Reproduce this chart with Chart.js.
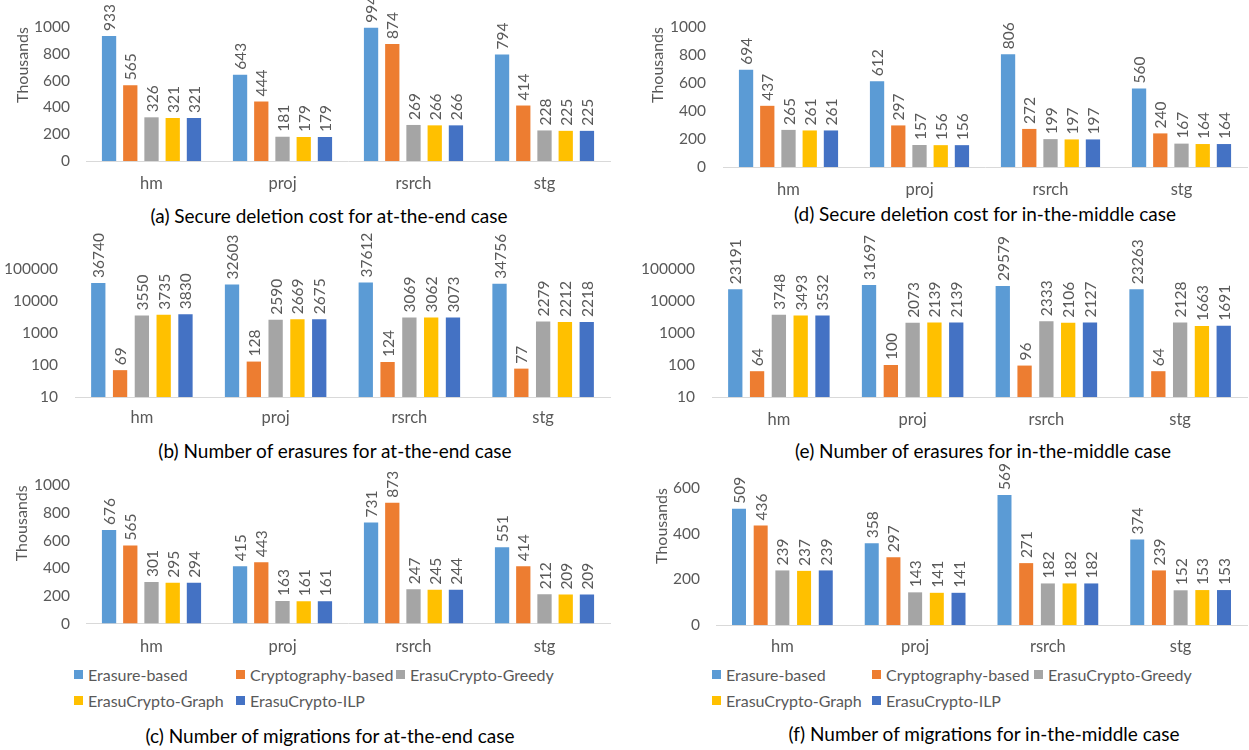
<!DOCTYPE html>
<html>
<head>
<meta charset="utf-8">
<script src="https://cdn.jsdelivr.net/npm/chart.js@4.4.1/dist/chart.umd.min.js"></script>
<style>
body{margin:0;background:#fff;width:1249px;height:750px;position:relative;overflow:hidden;font-family:Lato,sans-serif}
canvas{position:absolute}
.cap{position:absolute;transform:translate(-50%,-50%);white-space:nowrap;font-size:19px;color:#000}
.lg{position:absolute;white-space:nowrap;font-size:16px;color:#595959;line-height:18px}
.lg i{position:absolute;left:-14px;top:4px;width:9px;height:9px}
</style>
</head>
<body>

<script>
const categories = ["hm","proj","rsrch","stg"]
const seriesNames = ["Erasure-based","Cryptography-based","ErasuCrypto-Greedy","ErasuCrypto-Graph","ErasuCrypto-ILP"]
const seriesColors = ["#5B9BD5","#ED7D31","#A5A5A5","#FFC000","#4472C4"]

// one row per series, one column per category
const endCost = [
    [933,643,994,794],
    [565,444,874,414],
    [326,181,269,228],
    [321,179,266,225],
    [321,179,266,225]
]
const endErasures = [
    [36740,32603,37612,34756],
    [69,128,124,77],
    [3550,2590,3069,2279],
    [3735,2669,3062,2212],
    [3830,2675,3073,2218]
]
const endMigrations = [
    [676,415,731,551],
    [565,443,873,414],
    [301,163,247,212],
    [295,161,245,209],
    [294,161,244,209]
]
const midCost = [
    [694,612,806,560],
    [437,297,272,240],
    [265,157,199,167],
    [261,156,197,164],
    [261,156,197,164]
]
const midErasures = [
    [23191,31697,29579,23263],
    [64,100,96,64],
    [3748,2073,2333,2128],
    [3493,2139,2106,1663],
    [3532,2139,2127,1691]
]
const midMigrations = [
    [509,358,569,374],
    [436,297,271,239],
    [239,143,182,152],
    [237,141,182,153],
    [239,141,182,153]
]

const linearTicks = [0,200,400,600,800,1000]
const linearTicksSmall = [0,200,400,600]
const logTicks = [10,100,1000,10000,100000]

const captions = [
    "(a) Secure deletion cost for at-the-end case",
    "(b) Number of erasures for at-the-end case",
    "(c) Number of migrations for at-the-end case",
    "(d) Secure deletion cost for in-the-middle case",
    "(e) Number of erasures for in-the-middle case",
    "(f) Number of migrations for in-the-middle case"
]

const panels = [
    {data:endCost, ticks:linearTicks, log:false, yTitle:true,
     left:0, top:0, w:620, h:200, yW:86, pT:27, pR:10, xH:39, yPad:16, xPad:13, tPad:13, cat:0.81, bar:0.673,
     cap:[329,215]},
    {data:endErasures, ticks:logTicks, log:true, yTitle:false,
     left:0, top:220, w:620, h:210, yW:75, pT:49, pR:10, xH:33, yPad:17, xPad:11, tPad:0, cat:0.815, bar:0.656,
     cap:[335,450]},
    {data:endMigrations, ticks:linearTicks, log:false, yTitle:true,
     left:0, top:460, w:620, h:200, yW:86, pT:25, pR:10, xH:36.5, yPad:16, xPad:13.5, tPad:12.5, cat:0.81, bar:0.673,
     cap:[330,735], legend:[74,675,[0,162,322,0,162]]},
    {data:midCost, ticks:linearTicks, log:false, yTitle:true,
     left:620, top:0, w:629, h:200, yW:103, pT:27, pR:2, xH:33, yPad:17, xPad:13, tPad:28.4, cat:0.81, bar:0.673,
     cap:[985,213]},
    {data:midErasures, ticks:logTicks, log:true, yTitle:false,
     left:620, top:220, w:629, h:210, yW:92, pT:49, pR:2, xH:33, yPad:17, xPad:13, tPad:0, cat:0.815, bar:0.656,
     cap:[983,450]},
    {data:midMigrations, ticks:linearTicksSmall, log:false, yTitle:true,
     left:620, top:460, w:629, h:200, yW:96, pT:28, pR:2, xH:35, yPad:16, xPad:12, tPad:32.4, cat:0.817, bar:0.645,
     cap:[984,733], legend:[712,675,[0,160,322,0,160]]}
]

const valueLabels = {
    id:"valueLabels",
    afterDatasetsDraw(chart){
        const ctx = chart.ctx
        ctx.save()
        ctx.font = "15.5px Lato"
        ctx.fillStyle = "#595959"
        ctx.textAlign = "left"
        ctx.textBaseline = "middle"
        chart.data.datasets.forEach((ds,i)=>{
            chart.getDatasetMeta(i).data.forEach((bar,j)=>{
                ctx.save()
                ctx.translate(bar.x+1, bar.y-5)
                ctx.rotate(-Math.PI/2)
                ctx.fillText(String(ds.data[j]),0,0)
                ctx.restore()
            })
        })
        ctx.restore()
    }
}

Chart.defaults.font.family = "Lato"
Chart.defaults.font.size = 15
Chart.defaults.color = "#595959"

panels.forEach((p,k)=>{

    const cv = document.createElement("canvas")
    cv.width = p.w
    cv.height = p.h
    cv.style.left = p.left+"px"
    cv.style.top = p.top+"px"
    document.body.appendChild(cv)

    const tickVals = p.ticks

    new Chart(cv,{
        type:"bar",
        data:{
            labels:categories,
            datasets:seriesNames.map((name,i)=>({
                label:name,
                data:p.data[i],
                backgroundColor:seriesColors[i],
                categoryPercentage:p.cat,
                barPercentage:p.bar
            }))
        },
        options:{
            responsive:false,
            animation:false,
            layout:{padding:{top:p.pT,right:p.pR,left:0,bottom:0}},
            plugins:{legend:{display:false},tooltip:{enabled:false}},
            scales:{
                x:{
                    grid:{display:false,drawTicks:false},
                    border:{color:"#D9D9D9",width:1},
                    ticks:{padding:p.xPad,font:{size:16.5}},
                    afterFit(s){ s.height = p.xH }
                },
                y:{
                    type:p.log ? "logarithmic" : "linear",
                    min:tickVals[0],
                    max:tickVals[tickVals.length-1],
                    grid:{display:false,drawTicks:false},
                    border:{display:false},
                    ticks:{padding:p.yPad,font:{size:15.5},callback:v=>String(v)},
                    afterBuildTicks(s){ s.ticks = tickVals.map(v=>({value:v})) },
                    title:{display:p.yTitle,text:"Thousands",align:"end",padding:{top:p.tPad,bottom:0},font:{size:16},color:"#595959"},
                    afterFit(s){ s.width = p.yW }
                }
            }
        },
        plugins:[valueLabels]
    })

    const cap = document.createElement("div")
    cap.className = "cap"
    cap.textContent = captions[k]
    cap.style.left = p.cap[0]+"px"
    cap.style.top = p.cap[1]+"px"
    document.body.appendChild(cap)

    if(p.legend){
        const [lx,ly,offs] = p.legend
        seriesNames.forEach((name,i)=>{
            const item = document.createElement("div")
            item.className = "lg"
            item.style.left = (lx+14+offs[i])+"px"
            item.style.top = (ly-9+(i>2?26:0))+"px"
            item.innerHTML = `<i style="background:${seriesColors[i]}"></i>${name}`
            document.body.appendChild(item)
        })
    }

})
</script>
</body>
</html>
